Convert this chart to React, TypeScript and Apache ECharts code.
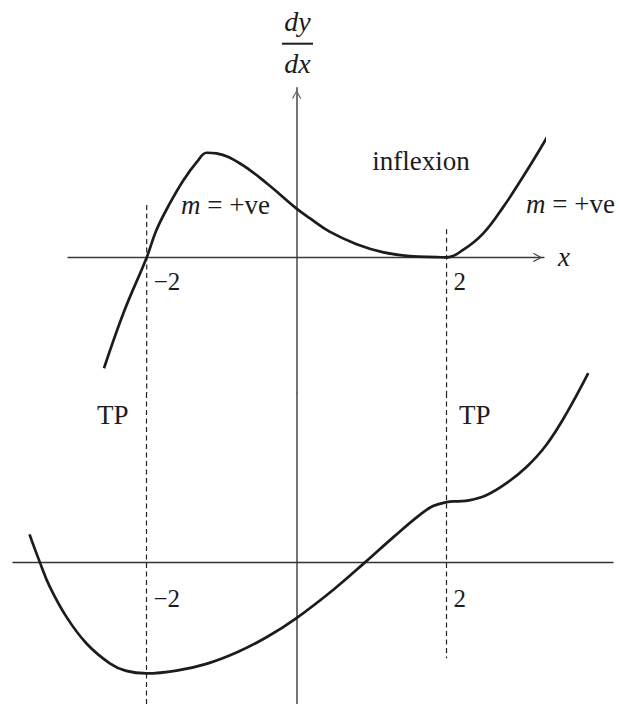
import React, { useEffect, useRef } from 'react';
import * as echarts from 'echarts';

// x positions that carry tick labels
const X_TICKS = [-2, 2];

// upper graph: gradient function dy/dx
const TOP_X = [-2.57, -2.3, -2.0, -1.87, -1.69, -1.51, -1.33, -1.2, -1.07, -0.76, -0.4, 0, 0.18, 0.44, 0.8, 1.16, 1.51, 1.87, 2.0, 2.22, 2.49, 2.76, 3.02, 3.24, 3.47];
const TOP_DYDX = [-3.27, -1.58, 0, 0.81, 1.6, 2.28, 2.82, 3.09, 3.07, 2.78, 2.19, 1.44, 1.15, 0.76, 0.39, 0.15, 0.04, 0.01, 0, 0.22, 0.71, 1.5, 2.38, 3.17, 4.05];

// lower graph: y
const BOTTOM_X = [-3.56, -3.42, -3.29, -3.07, -2.8, -2.49, -2.27, -2.0, -1.6, -1.2, -0.8, -0.4, 0, 0.5, 0.91, 1.3, 1.64, 1.82, 2.0, 2.15, 2.3, 2.53, 2.8, 3.07, 3.33, 3.6, 3.89];
const BOTTOM_Y = [1.0, 0, -0.85, -1.91, -2.86, -3.56, -3.83, -3.92, -3.82, -3.58, -3.18, -2.64, -1.96, -0.94, 0, 0.92, 1.68, 2.0, 2.14, 2.17, 2.2, 2.38, 2.81, 3.39, 4.16, 5.28, 6.7];

// dashed guides through the turning points
const GUIDE_X = [-2, 2];
const GUIDE_TOP_FROM = [1.55, 0.83];
const GUIDE_BOTTOM_TO = [-5, -3.38];

// vertical ranges of the two panels
const TOP_RANGE = [-4, 5];
const BOTTOM_RANGE = [-5, 6];

const SERIF = '"Liberation Serif", "DejaVu Serif", serif';

export default function App() {
  const ref = useRef<HTMLDivElement>(null);

  useEffect(() => {
    const chart = echarts.init(ref.current!, null, { renderer: 'svg' });
    const ink = '#1c1c1c';
    const arrow = 'path://M5 0L10 9L9 10L5 2.2L1 10L0 9Z';

    const topGrid = { left: 68, top: 88, width: 476, height: 305 };
    const botGrid = { left: 13, top: 393, width: 600, height: 311 };
    // shift each x axis (line + labels) from the grid bottom up to its y = 0 level
    const zeroOffset = (g: any, r: number[]) => -(g.height * (0 - r[0])) / (r[1] - r[0]);

    const tickLabel = (margin: number) => ({
      show: true,
      customValues: X_TICKS,
      formatter: (v: number) => (v < 0 ? '\u2212' + Math.abs(v) : String(v)),
      align: 'left',
      padding: [0, 0, 0, 7],
      margin,
      fontFamily: SERIF,
      fontSize: 25,
      color: ink,
    });

    const guides: any[] = [];
    GUIDE_X.forEach((gx, i) => {
      guides.push({
        type: 'line', xAxisIndex: 0, yAxisIndex: 0, symbol: 'none', silent: true,
        data: [[gx, GUIDE_TOP_FROM[i]], [gx, TOP_RANGE[0]]],
        lineStyle: { color: '#222', width: 1.2, type: [5, 3.5] },
      });
      guides.push({
        type: 'line', xAxisIndex: 1, yAxisIndex: 1, symbol: 'none', silent: true,
        data: [[gx, BOTTOM_RANGE[1]], [gx, GUIDE_BOTTOM_TO[i]]],
        lineStyle: { color: '#222', width: 1.2, type: [5, 3.5] },
      });
    });

    const txt = (x: number, y: number, text: string, align = 'left', extra: any = {}) => ({
      type: 'text', x, y, silent: true,
      style: {
        text, fontFamily: SERIF, fontSize: 27, fill: ink, align, verticalAlign: 'middle',
        rich: { i: { fontFamily: SERIF, fontSize: 27, fontStyle: 'italic', fill: ink } },
        ...extra,
      },
    });

    chart.setOption({
      animation: false,
      backgroundColor: '#fff',
      grid: [
        { ...topGrid, outerBoundsMode: 'none', containLabel: false },
        { ...botGrid, outerBoundsMode: 'none', containLabel: false },
      ],
      xAxis: [
        {
          gridIndex: 0, type: 'value', min: -3.05, max: 3.3, position: 'bottom',
          offset: zeroOffset(topGrid, TOP_RANGE),
          name: 'x', nameLocation: 'end', nameGap: 14,
          nameTextStyle: { fontFamily: SERIF, fontStyle: 'italic', fontSize: 27, color: ink, verticalAlign: 'middle', align: 'left' },
          axisLine: { show: true, onZero: false, symbol: ['none', arrow], symbolSize: [9, 13], symbolOffset: [0, -6.5], lineStyle: { color: '#3a3a3a', width: 1.3 } },
          axisTick: { show: false }, splitLine: { show: false },
          axisLabel: tickLabel(12),
        },
        {
          gridIndex: 1, type: 'value', min: -3.78, max: 4.22, position: 'bottom',
          offset: zeroOffset(botGrid, BOTTOM_RANGE),
          axisLine: { show: true, onZero: false, lineStyle: { color: '#333', width: 1.3 } },
          axisTick: { show: false }, splitLine: { show: false },
          axisLabel: tickLabel(23),
        },
      ],
      yAxis: [
        {
          gridIndex: 0, type: 'value', min: TOP_RANGE[0], max: TOP_RANGE[1],
          axisLine: { show: true, onZero: true, symbol: ['none', arrow], symbolSize: [9, 13], symbolOffset: [0, -6.5], lineStyle: { color: '#666', width: 1.8 } },
          axisTick: { show: false }, splitLine: { show: false }, axisLabel: { show: false },
        },
        {
          gridIndex: 1, type: 'value', min: BOTTOM_RANGE[0], max: BOTTOM_RANGE[1],
          axisLine: { show: true, onZero: true, lineStyle: { color: '#666', width: 1.8 } },
          axisTick: { show: false }, splitLine: { show: false }, axisLabel: { show: false },
        },
      ],
      series: [
        ...guides,
        {
          type: 'line', name: 'dy/dx', xAxisIndex: 0, yAxisIndex: 0, symbol: 'none', clip: false, smooth: 0.4,
          data: TOP_X.map((x, i) => [x, TOP_DYDX[i]]),
          lineStyle: { color: ink, width: 2.7 },
        },
        {
          type: 'line', name: 'y', xAxisIndex: 1, yAxisIndex: 1, symbol: 'none', clip: false, smooth: 0.4,
          data: BOTTOM_X.map((x, i) => [x, BOTTOM_Y[i]]),
          lineStyle: { color: ink, width: 2.7 },
        },
      ],
      graphic: [
        txt(297.5, 21.5, 'dy', 'center', { fontStyle: 'italic', fontSize: 28 }),
        { type: 'line', silent: true, shape: { x1: 282, y1: 43.7, x2: 313, y2: 43.7 }, style: { stroke: ink, lineWidth: 2 } },
        txt(297.5, 63, 'dx', 'center', { fontStyle: 'italic', fontSize: 28 }),
        txt(421, 160.5, 'inflexion', 'center'),
        txt(181, 204.5, '{i|m} = +ve'),
        txt(526, 204, '{i|m} = +ve'),
        txt(97, 415, 'TP'),
        txt(459, 415, 'TP'),
      ],
    });

    return () => chart.dispose();
  }, []);

  return <div ref={ref} style={{ position: 'fixed', left: 0, top: 0, width: 621, height: 704 }} />;
}
